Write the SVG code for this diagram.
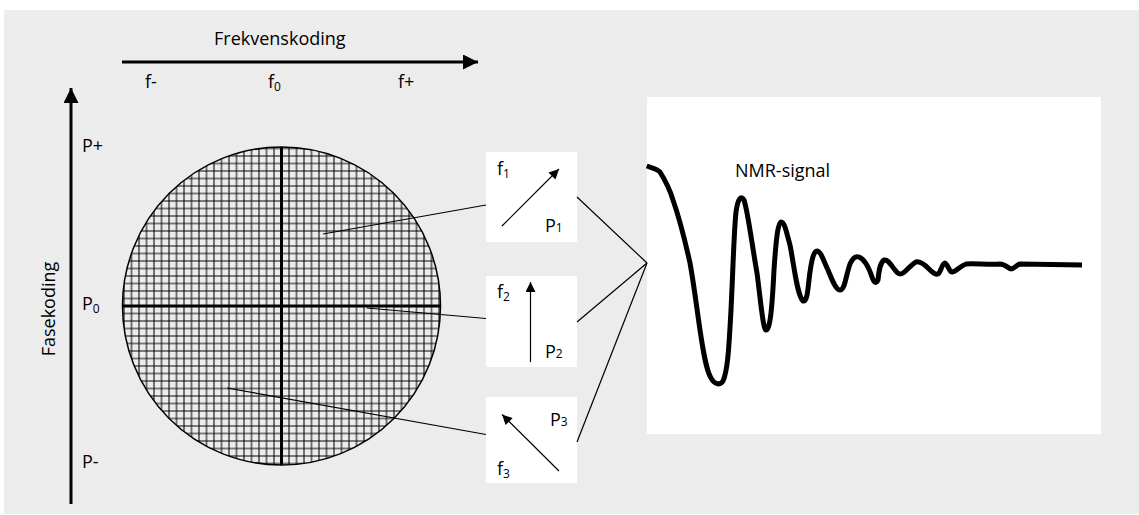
<svg xmlns="http://www.w3.org/2000/svg" width="1139" height="515" viewBox="0 0 1139 515">
<style>
text{font-family:"Open Sans","Noto Sans","Liberation Sans",sans-serif;fill:#000;font-size:18px}
.sub{font-size:12px}
.thin{stroke:#000;stroke-width:1.2;fill:none}
.box{fill:#fff}
</style>
<defs>
<marker id="ah" viewBox="0 0 10 10" refX="10" refY="5" markerWidth="14" markerHeight="10" markerUnits="userSpaceOnUse" orient="auto">
<path d="M0 0L10 5L0 10z" fill="#000"/>
</marker>
<marker id="ahBig" viewBox="0 0 10 10" refX="10" refY="5" markerWidth="37" markerHeight="15" markerUnits="userSpaceOnUse" orient="auto">
<path d="M0 0L10 5L0 10z" fill="#000"/>
</marker>
<pattern id="grid" patternUnits="userSpaceOnUse" x="277.75" y="302.25" width="7.5" height="7.5">
<path d="M3.75 0V7.5M0 3.75H7.5" stroke="#000" stroke-width="1"/>
</pattern>
<clipPath id="cc"><circle cx="281.5" cy="306" r="159"/></clipPath>
</defs>
<rect x="4" y="10" width="1135" height="504" fill="#ececec"/>
<rect x="647" y="97" width="454" height="337" fill="#fff"/>

<g id="freq-axis">
<line x1="122" y1="62" x2="478" y2="62" stroke="#000" stroke-width="3" marker-end="url(#ahBig)"/>
<text x="214" y="45">Frekvenskoding</text>
<text x="145" y="88">f-</text>
<text x="268" y="88">f<tspan class="sub" dy="3">0</tspan></text>
<text x="398" y="88">f+</text>
</g>

<g id="phase-axis">
<line x1="71" y1="504" x2="71" y2="88" stroke="#000" stroke-width="3" marker-end="url(#ahBig)"/>
<text transform="translate(55 309) rotate(-90)" text-anchor="middle">Fasekoding</text>
<text x="82" y="152">P+</text>
<text x="82" y="310">P<tspan class="sub" dy="3">0</tspan></text>
<text x="82" y="468">P-</text>
</g>

<g id="sample">
<circle cx="281.5" cy="306" r="159" fill="#ececec"/>
<rect x="122" y="146" width="320" height="320" fill="url(#grid)" clip-path="url(#cc)"/>
<g clip-path="url(#cc)" stroke="#000" stroke-width="3">
<line x1="281.5" y1="140" x2="281.5" y2="470"/>
<line x1="118" y1="306" x2="446" y2="306"/>
</g>
<circle cx="281.5" cy="306" r="159" fill="none" stroke="#000" stroke-width="1.5"/>
</g>

<g id="box1">
<rect class="box" x="486" y="152" width="91" height="90"/>
<line class="thin" x1="502" y1="226" x2="559" y2="169" marker-end="url(#ah)"/>
<text x="497" y="175">f<tspan class="sub" dy="3">1</tspan></text>
<text x="545" y="232">P<tspan class="sub">1</tspan></text>
</g>

<g id="box2">
<rect class="box" x="486" y="276" width="91" height="91"/>
<line class="thin" x1="530.5" y1="362" x2="530.5" y2="282" marker-end="url(#ah)"/>
<text x="497" y="298">f<tspan class="sub" dy="3">2</tspan></text>
<text x="545" y="358">P<tspan class="sub">2</tspan></text>
</g>

<g id="box3">
<rect class="box" x="486" y="397" width="91" height="86"/>
<line class="thin" x1="559" y1="471" x2="502" y2="414.5" marker-end="url(#ah)"/>
<text x="550" y="426">P<tspan class="sub">3</tspan></text>
<text x="497" y="475">f<tspan class="sub" dy="3">3</tspan></text>
</g>

<g id="nmr-signal">
<text x="735" y="177">NMR-signal</text>
<path d="M646.7 166 C652 168 657 169 660 172 C665 180 670 190 673 200 C680 220 686 245 690 263 C694 285 697 310 700 330 C703 350 706 370 711 378 C714 384 720 386 723 381 C728 370 729 345 731 310 C733 270 734 230 736 212 C738 198 741 195 744 200 C748 212 752 245 757 273 C760 295 763 330 766 330 C770 330 772 310 774 270 C776 240 778 222 781 222 C785 222 787 235 790 245 C794 265 797 295 803 301 C808 302 808 285 810 272 C812 258 814 251 817 251 C821 251 824 262 828 270 C832 280 836 290 840 290 C845 290 846 275 850 264 C853 257 856 256 859 257 C864 259 869 268 872 277 C874 283 876 284 878 280 C879 270 880 263 884 260 C888 259 891 265 895 270 C898 274 900 275 903 273 C906 271 912 264 916 262 C920 261 925 265 929 269 C932 272 935 275 938 274 C941 272 942 263 945 263 C948 264 949 272 952 272 C956 272 960 266 966 264 C972 263 990 265 1000 264 C1005 264 1008 268 1011 269 C1014 269 1016 265 1020 264 L1082 265" fill="none" stroke="#000" stroke-width="5" stroke-linejoin="round" stroke-linecap="butt"/>
</g>

<g id="connectors" class="thin">
<line x1="323" y1="234" x2="486" y2="205"/>
<line x1="367" y1="308" x2="486" y2="318.5"/>
<line x1="227" y1="388" x2="486" y2="434.5"/>
<line x1="577" y1="197" x2="647" y2="263"/>
<line x1="577" y1="322" x2="647" y2="263"/>
<line x1="577" y1="442" x2="647" y2="263"/>
</g>
</svg>
